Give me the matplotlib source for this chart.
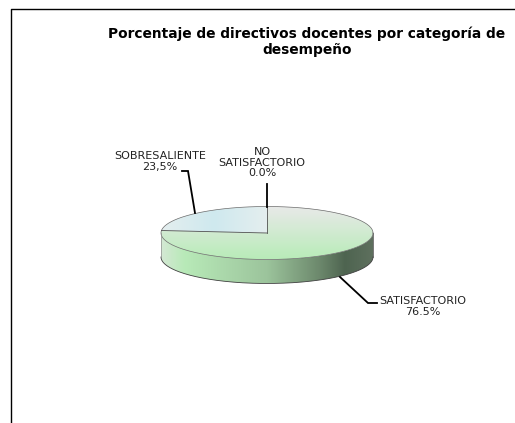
import numpy as np
import matplotlib
matplotlib.use("Agg")
import matplotlib.pyplot as plt
from matplotlib.colors import LinearSegmentedColormap

title = "Porcentaje de directivos docentes por categoría de\ndesempeño"
categories = ["NO\nSATISFACTORIO", "SATISFACTORIO", "SOBRESALIENTE"]
values = [0.0, 76.5, 23.5]
value_labels = ["0.0%", "76.5%", "23,5%"]

W, H = 515, 423
cx, cy = 267, 233   # pie centre, pixels
rx, ry = 106, 26.5  # pie radii, pixels
depth = 24


def px(x, y):
    # pixel position -> data units of the unit pie
    return (x - cx) / rx, (cy - y) / ry


fig = plt.figure(figsize=(W / 100, H / 100), dpi=100)
ax = fig.add_axes([0, 0, 1, 1])
wedges, _ = ax.pie(values, startangle=90, counterclock=False, radius=1,
                   colors=["none"] * 3, wedgeprops={"linewidth": 0})
ax.set_aspect("auto")
x0, y1 = px(0, 0)
x1, y0 = px(W, H)
ax.set_xlim(x0, x1)
ax.set_ylim(y0, y1)
ax.axis("off")

# side wall of the disc
side_cmap = LinearSegmentedColormap.from_list("side", [
    (0.0, "#d4e8d4"), (0.11, "#b8eab8"), (0.5, "#9cc49c"),
    (0.75, "#6c886c"), (0.87, "#4e6450"), (1.0, "#5e705e")])
d = depth / ry
t = np.linspace(np.pi, 2 * np.pi, 200)
side_x = np.r_[np.cos(t), np.cos(t[::-1])]
side_y = np.r_[np.sin(t) - d, np.sin(t[::-1])]
side_poly = ax.fill(side_x, side_y, color="none", lw=0)[0]
side_im = ax.imshow(np.linspace(0, 1, 256)[None, :], cmap=side_cmap, aspect="auto",
                    extent=(-1, 1, -1 - d, 1), zorder=1)
side_im.set_clip_path(side_poly)

# top faces
sat_cmap = LinearSegmentedColormap.from_list("sat", ["#b8ecb8", "#e9e9e9"])
sat_im = ax.imshow(np.linspace(0, 1, 256)[:, None], cmap=sat_cmap, aspect="auto",
                   origin="lower", extent=(-1, 1, -1, 1), zorder=2)
sat_im.set_clip_path(wedges[1])
sob_cmap = LinearSegmentedColormap.from_list("sob", ["#e4eeee", "#cfe9ef", "#e4eeee"])
sob_im = ax.imshow(np.linspace(0, 1, 256)[None, :], cmap=sob_cmap, aspect="auto",
                   extent=(-1, 0, -1, 1), zorder=2)
sob_im.set_clip_path(wedges[2])

# outlines
t = np.linspace(0, 2 * np.pi, 300)
ax.plot(np.cos(t), np.sin(t), color="#6a6a6a", lw=0.5, zorder=3)
t = np.linspace(np.pi, 2 * np.pi, 200)
ax.plot(np.cos(t), np.sin(t) - d, color="#404040", lw=0.6, zorder=3)
ax.plot([-1, -1], [0, -d], color="#909090", lw=0.5, zorder=3)
ax.plot([1, 1], [0, -d], color="#404040", lw=0.5, zorder=3)
a = np.deg2rad(90 + values[2] / 100 * 360)
ax.plot([0, np.cos(a)], [0, np.sin(a)], color="#505050", lw=0.6, zorder=3)
ax.plot([0, 0], [0, 1], color="#505050", lw=0.6, zorder=3)

# leader lines
leaders = [
    [(267, 184), (267, 207)],
    [(340, 277), (368, 303), (377, 303)],
    [(182, 171), (188, 171), (195, 213)],
]
for pts in leaders:
    xy = np.array([px(*p) for p in pts])
    ax.plot(xy[:, 0], xy[:, 1], color="black", lw=1.3, zorder=4, solid_joinstyle="miter")

# labels
positions = [(262, 162.5), (423, 306.5), (160, 161.5)]
for cat, val, (x, y) in zip(categories, value_labels, positions):
    lx, ly = px(x, y)
    ax.text(lx, ly, cat + "\n" + val, ha="center", va="center", fontsize=8,
            color="#222222", linespacing=1.1, zorder=5)

lx, ly = px(307, 42)
ax.text(lx, ly, title, ha="center", va="center", fontsize=9.9, fontweight="bold",
        color="black", linespacing=1.2)

# chart border, only top and left are inside the crop
bx, by = zip(px(10.5, H), px(10.5, 8.5), px(W, 8.5))
ax.plot(bx, by, color="black", lw=1.0, zorder=5)

fig.savefig("out.png", dpi=100)
